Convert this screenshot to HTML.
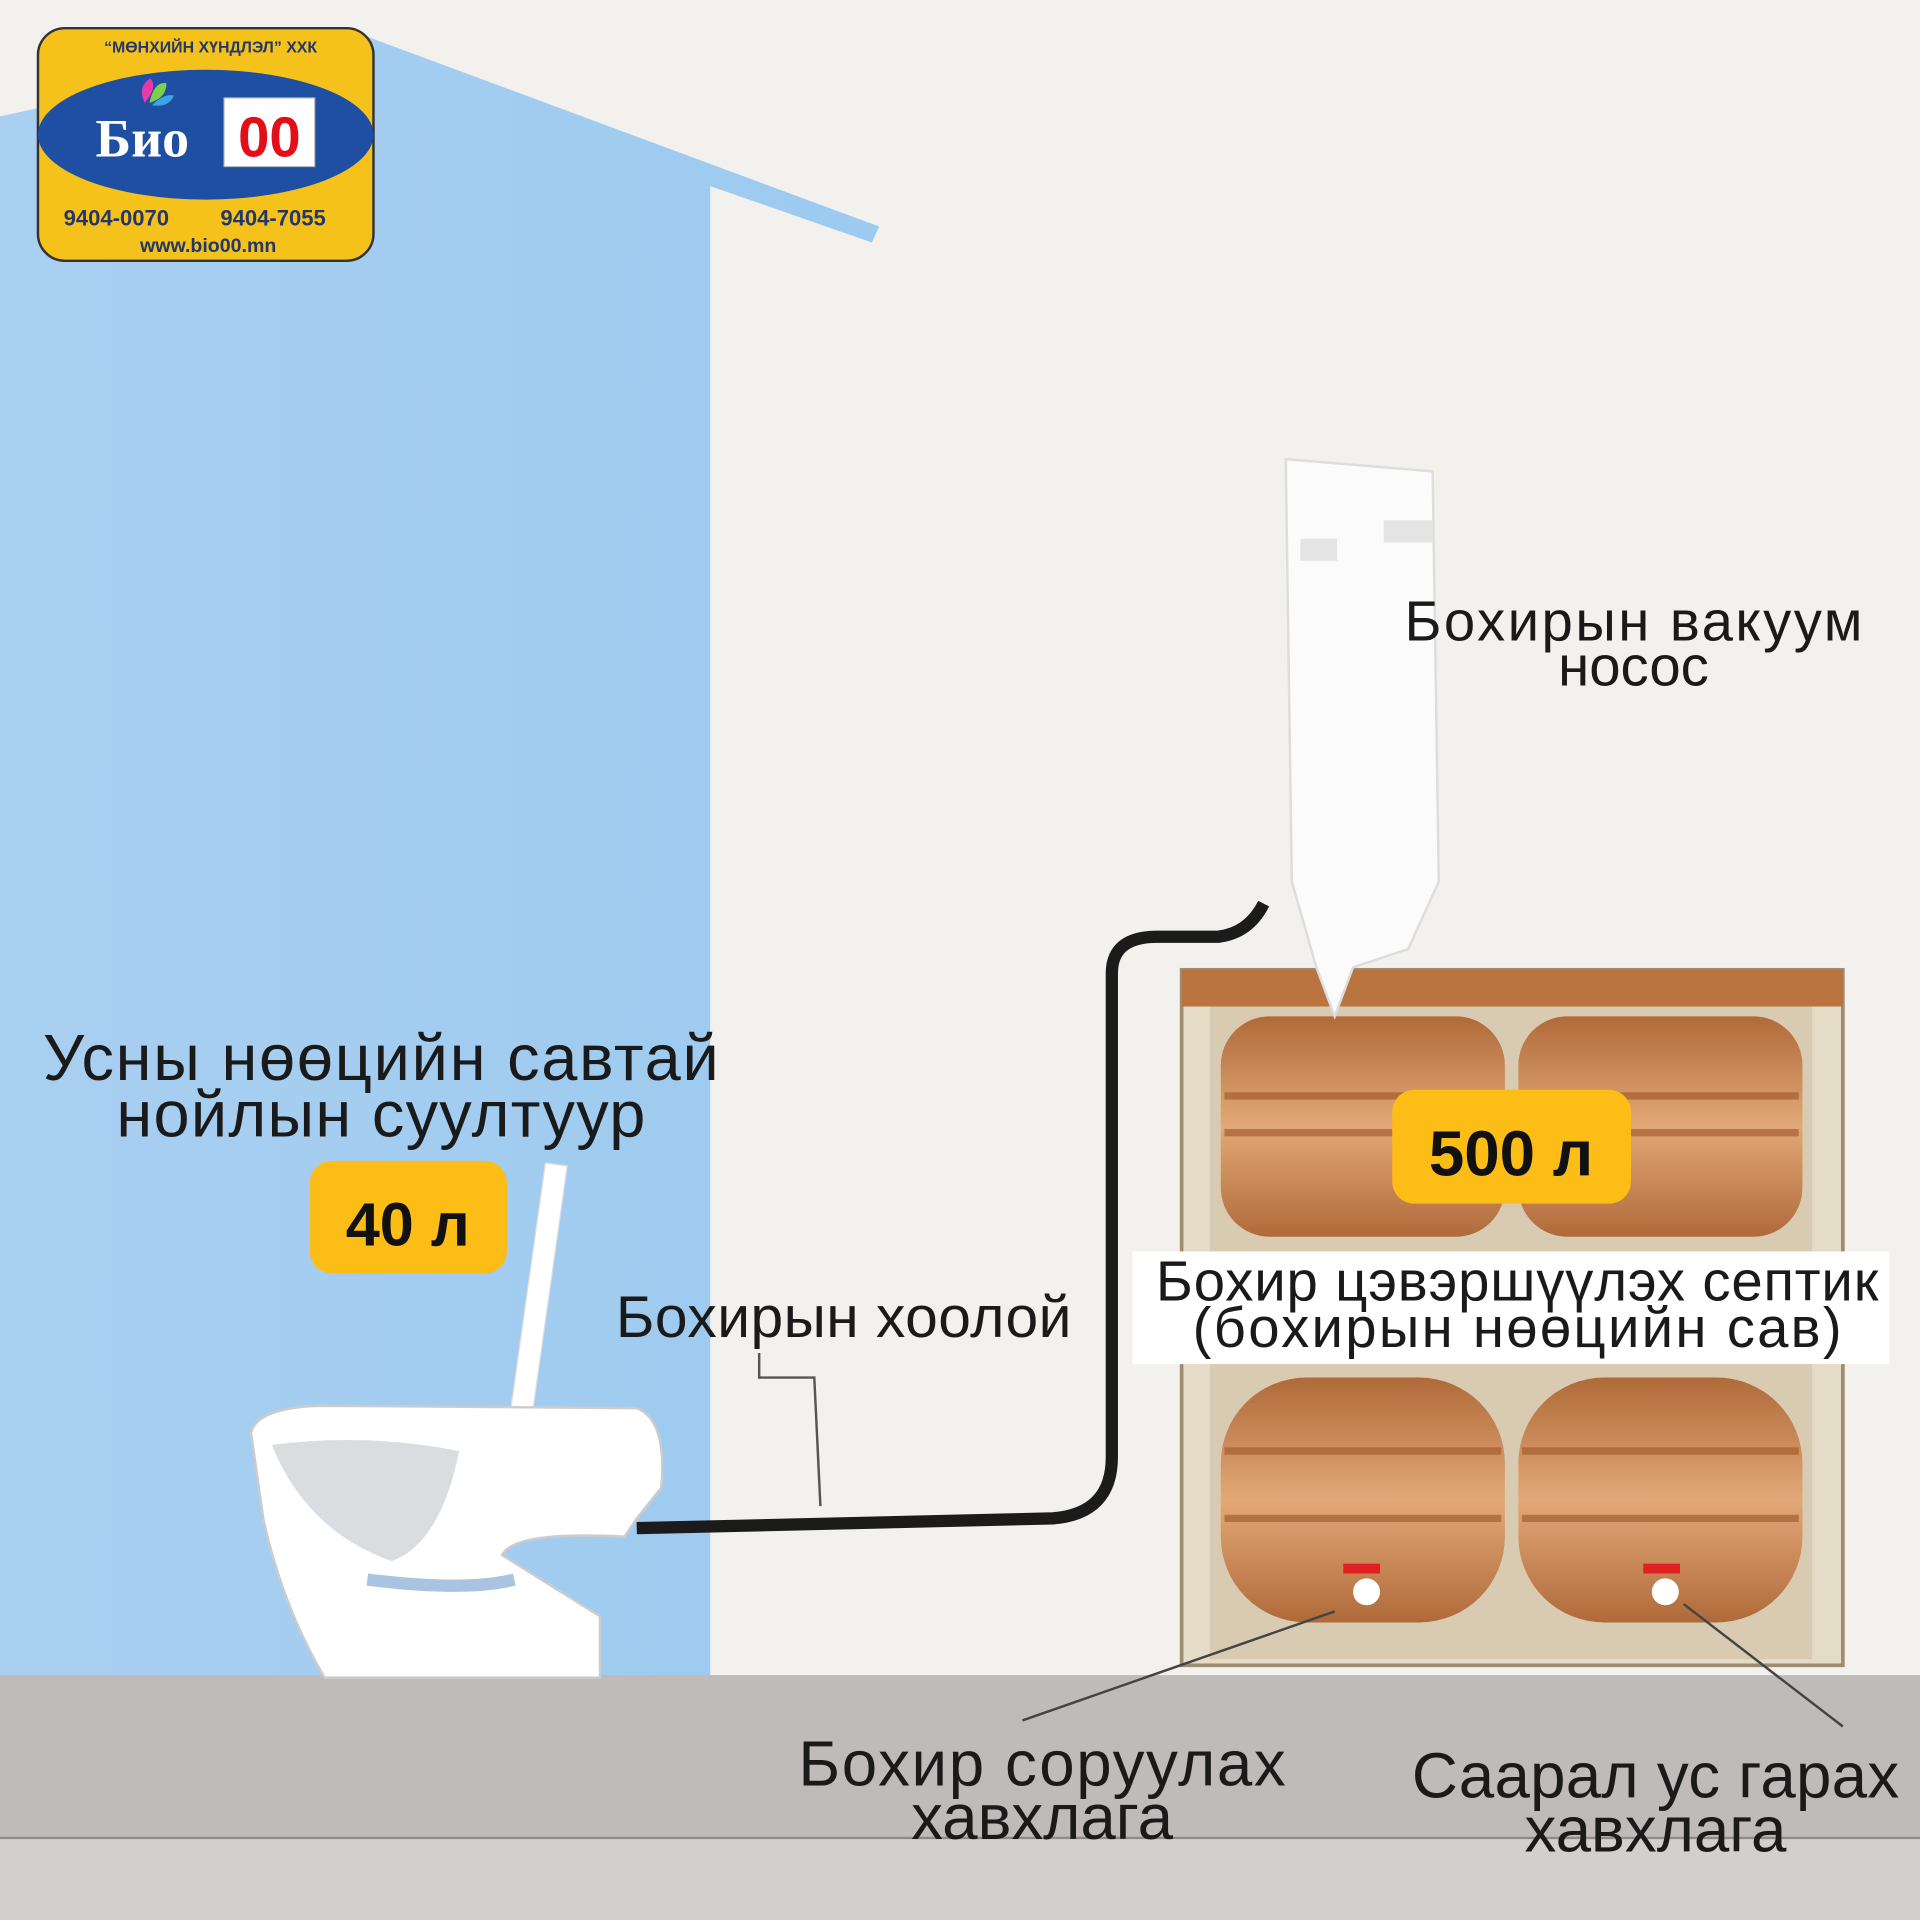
<!DOCTYPE html>
<html><head><meta charset="utf-8"><style>
html,body{margin:0;padding:0;background:#f2f0ec}
svg{display:block}
text{font-family:"Liberation Sans","DejaVu Sans",sans-serif}
</style></head><body>
<svg width="1920" height="1920" viewBox="0 0 1568 1568" xmlns="http://www.w3.org/2000/svg">
<defs>
<linearGradient id="wall" x1="0" y1="0" x2="1" y2="0"><stop offset="0" stop-color="#a9cff0"/><stop offset="1" stop-color="#9ccaf0"/></linearGradient>
<linearGradient id="tank" x1="0" y1="0" x2="0" y2="1"><stop offset="0" stop-color="#b06a3a"/><stop offset="0.5" stop-color="#e3a877"/><stop offset="1" stop-color="#b06a3a"/></linearGradient>
</defs>
<rect width="1568" height="1568" fill="#f3f1ed"/>
<polygon points="0,95 300,30 718,185 712,198 580,152 580,1372 0,1372" fill="url(#wall)"/>
<rect x="0" y="1368" width="1568" height="135" fill="#bebbba"/>
<rect x="0" y="1500" width="1568" height="68" fill="#d2cfcd"/>
<line x1="0" y1="1501" x2="1568" y2="1501" stroke="#8d8a89" stroke-width="2"/>
<!-- logo -->
<rect x="31" y="23" width="274" height="190" rx="22" fill="#f5c21c" stroke="#333" stroke-width="2"/>
<ellipse cx="168" cy="110" rx="137" ry="53" fill="#1f4fa3"/>
<text x="172" y="43" font-size="13" font-weight="bold" fill="#23376b" text-anchor="middle">“МӨНХИЙН ХҮНДЛЭЛ” ХХК</text>
<path d="M118 84 q-6 -14 5 -20 q6 8 -5 20z" fill="#e83aa6"/><path d="M122 84 q4 -18 14 -16 q0 12 -14 16z" fill="#7bd04b"/><path d="M124 86 q10 -10 18 -8 q-4 10 -18 8z" fill="#3aa6e8"/>
<text x="78" y="128" font-size="44" font-weight="bold" fill="#fff" style="font-family:'Liberation Serif',serif">Био</text>
<rect x="183" y="80" width="74" height="56" fill="#fff" stroke="#bbb"/>
<text x="220" y="128" font-size="46" font-weight="bold" fill="#e30e18" text-anchor="middle">00</text>
<text x="52" y="184" font-size="18" font-weight="bold" fill="#23376b">9404-0070</text>
<text x="180" y="184" font-size="18" font-weight="bold" fill="#23376b">9404-7055</text>
<text x="170" y="206" font-size="16" font-weight="bold" fill="#23376b" text-anchor="middle">www.bio00.mn</text>
<!-- septic box -->
<rect x="965" y="792" width="540" height="568" fill="#e5dcc8" stroke="#9c8d72" stroke-width="3"/>
<rect x="988" y="820" width="492" height="535" fill="#d8cbb2"/>
<path d="M965 792 L1505 792 L1505 822 L965 822 Z" fill="#b9743f"/>
<g>
<rect x="997" y="830" width="232" height="180" rx="40" fill="url(#tank)"/>
<rect x="1240" y="830" width="232" height="180" rx="40" fill="url(#tank)"/>
<rect x="997" y="1125" width="232" height="200" rx="70" fill="url(#tank)"/>
<rect x="1240" y="1125" width="232" height="200" rx="70" fill="url(#tank)"/>
<g stroke="#9b5527" stroke-width="6" opacity="0.6">
<line x1="1000" y1="895" x2="1226" y2="895"/><line x1="1243" y1="895" x2="1469" y2="895"/>
<line x1="1000" y1="925" x2="1226" y2="925"/><line x1="1243" y1="925" x2="1469" y2="925"/>
<line x1="1000" y1="1185" x2="1226" y2="1185"/><line x1="1243" y1="1185" x2="1469" y2="1185"/>
<line x1="1000" y1="1240" x2="1226" y2="1240"/><line x1="1243" y1="1240" x2="1469" y2="1240"/>
</g>
<rect x="1097" y="1277" width="30" height="8" fill="#e02020"/><circle cx="1116" cy="1300" r="11" fill="#fff"/>
<rect x="1342" y="1277" width="30" height="8" fill="#e02020"/><circle cx="1360" cy="1300" r="11" fill="#fff"/>
</g>
<!-- pump -->
<path d="M1050 375 L1170 385 L1175 720 L1150 775 L1105 790 L1090 830 L1075 790 L1055 720 Z" fill="#fbfbfb" stroke="#ddd" stroke-width="2"/>
<rect x="1062" y="440" width="30" height="18" fill="#e4e4e4"/><rect x="1130" y="425" width="40" height="18" fill="#e4e4e4"/>
<!-- pipe -->
<path d="M520 1248 L860 1240 Q908 1236 908 1190 L908 795 Q908 765 945 765 L995 765 Q1020 762 1032 738" fill="none" stroke="#1b1b1b" stroke-width="10"/>
<!-- toilet -->
<rect x="430" y="950" width="18" height="230" transform="rotate(8 440 1060)" fill="#fff" stroke="#ddd"/>
<path d="M205 1170 Q210 1150 260 1148 L520 1150 Q545 1160 540 1215 L520 1240 L510 1255 Q420 1250 410 1270 L490 1320 L490 1370 L265 1370 Q230 1310 215 1240 Z" fill="#fff" stroke="#ccc" stroke-width="2"/>
<path d="M222 1180 Q300 1170 375 1185 Q360 1260 320 1275 Q250 1250 222 1180Z" fill="#d9dde0"/>
<path d="M300 1290 Q380 1300 420 1290" stroke="#a9c3e0" stroke-width="10" fill="none"/>
<!-- labels -->
<g font-size="53" fill="#1a1a1a">
<text x="311" y="882" text-anchor="middle" textLength="552">Усны нөөцийн савтай</text>
<text x="311" y="928" text-anchor="middle" textLength="432">нойлын суултуур</text>
</g>
<rect x="253" y="948" width="161" height="92" rx="18" fill="#fbbd16"/>
<text x="333" y="1017" font-size="50" font-weight="bold" fill="#111" text-anchor="middle">40 л</text>
<rect x="1137" y="890" width="195" height="93" rx="18" fill="#fbbd16"/>
<text x="1234" y="960" font-size="52" font-weight="bold" fill="#111" text-anchor="middle">500 л</text>
<text x="1334" y="523" font-size="46" fill="#1a1a1a" text-anchor="middle" textLength="374">Бохирын вакуум</text>
<text x="1334" y="560" font-size="46" fill="#1a1a1a" text-anchor="middle">носос</text>
<text x="689" y="1092" font-size="48" fill="#1a1a1a" text-anchor="middle" textLength="372">Бохирын хоолой</text>
<polyline points="620,1105 620,1125 665,1125 670,1230" fill="none" stroke="#555" stroke-width="2"/>
<rect x="925" y="1022" width="618" height="92" fill="#fff"/>
<text x="1239" y="1062" font-size="46" fill="#1a1a1a" text-anchor="middle" textLength="590">Бохир цэвэршүүлэх септик</text>
<text x="1239" y="1100" font-size="46" fill="#1a1a1a" text-anchor="middle" textLength="530">(бохирын нөөцийн сав)</text>
<line x1="1090" y1="1316" x2="835" y2="1405" stroke="#444" stroke-width="2"/>
<line x1="1375" y1="1310" x2="1505" y2="1410" stroke="#444" stroke-width="2"/>
<text x="851" y="1458" font-size="52" fill="#1a1a1a" text-anchor="middle" textLength="398">Бохир соруулах</text>
<text x="851" y="1502" font-size="52" fill="#1a1a1a" text-anchor="middle">хавхлага</text>
<text x="1352" y="1468" font-size="52" fill="#1a1a1a" text-anchor="middle" textLength="398">Саарал ус гарах</text>
<text x="1352" y="1512" font-size="52" fill="#1a1a1a" text-anchor="middle">хавхлага</text>
</svg>
</body></html>
